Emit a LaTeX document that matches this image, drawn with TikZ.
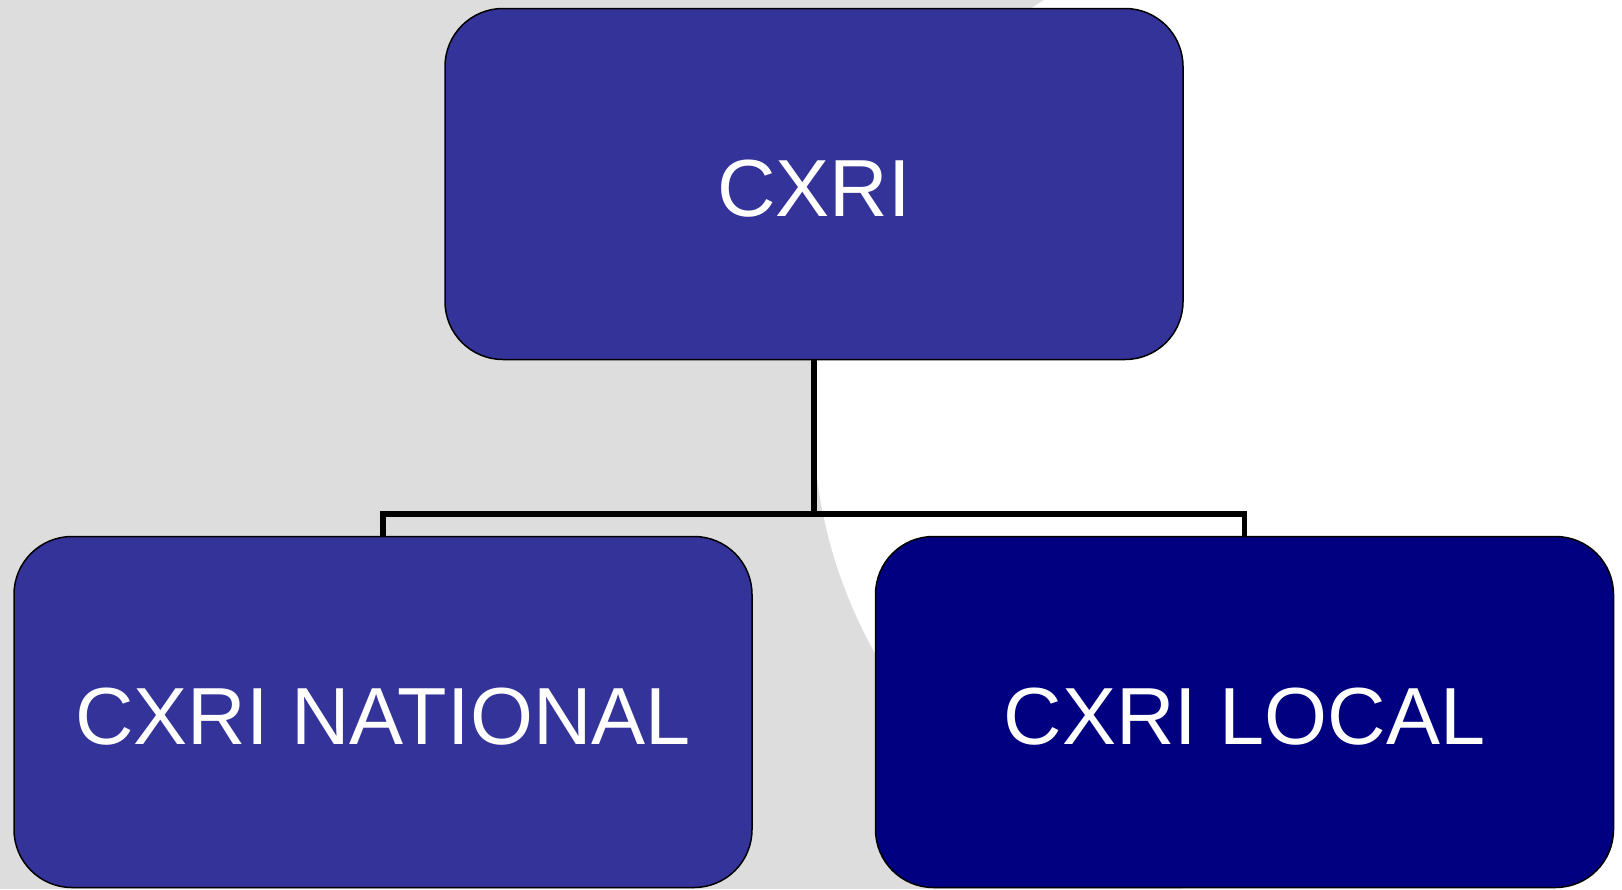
\documentclass[tikz,border=0pt]{standalone}
\usepackage{fontspec}
\setmainfont{Liberation Sans}
\definecolor{bggray}{RGB}{221,221,221}
\definecolor{boxblue}{RGB}{51,51,153}
\definecolor{boxnavy}{RGB}{0,0,128}
\begin{document}
\begin{tikzpicture}[x=1pt,y=-1pt,
  orgbox/.style={draw=black, line width=1.5pt, rounded corners=58pt,
    minimum width=738pt, minimum height=351pt, inner sep=0pt,
    text height=64pt, text depth=0pt,
    text=white, font=\fontsize{81}{97}\selectfont},
  conn/.style={draw=black, line width=5.5pt}]
\useasboundingbox (0,0) rectangle (1622,889);
\fill[bggray] (0,0) rectangle (1622,889);
\begin{scope}
  \clip (0,0) rectangle (1622,889);
  \fill[white] (1301,415) circle (488pt);
  \fill[white] (1301,0) rectangle (1622,889);
\end{scope}
\node[orgbox, fill=boxblue] (root) at (814,184) {CXRI};
\node[orgbox, fill=boxblue] (nat) at (383,712) {CXRI NATIONAL};
\node[orgbox, fill=boxnavy] (loc) at (1244.5,712) {CXRI LOCAL};
\coordinate (j) at (814,514);
\draw[conn] (root.south) -- (j) -| (nat.north);
\draw[conn] (j) -| (loc.north);
\end{tikzpicture}
\end{document}
